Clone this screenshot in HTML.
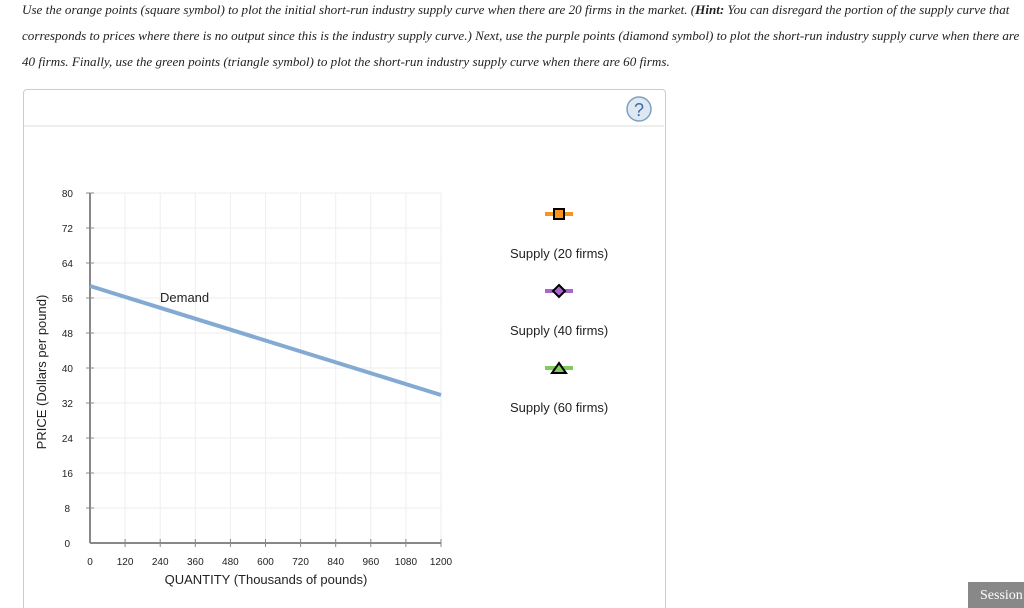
<!DOCTYPE html>
<html><head><meta charset="utf-8"><style>
html,body{margin:0;width:1024px;height:608px;overflow:hidden;background:#fff;font-family:"Liberation Sans",sans-serif;position:relative}
.t{position:absolute;left:22px;font-family:"Liberation Serif",serif;font-style:italic;font-size:13.1px;color:#222;white-space:nowrap}
.panel{position:absolute;left:23px;top:89px;width:641px;height:540px;border:1px solid #ccc;border-radius:4px}
.sess{position:absolute;left:968px;top:582px;width:56px;height:26px;background:#888;color:#fff;font-family:"Liberation Serif",serif;font-size:14px;line-height:28px;padding-left:12px;white-space:nowrap;overflow:hidden;box-sizing:border-box}
</style></head><body>
<div class="t" style="top:2px">Use the orange points (square symbol) to plot the initial short-run industry supply curve when there are 20 firms in the market. (<b>Hint:</b> You can disregard the portion of the supply curve that</div>
<div class="t" style="top:28px">corresponds to prices where there is no output since this is the industry supply curve.) Next, use the purple points (diamond symbol) to plot the short-run industry supply curve when there are</div>
<div class="t" style="top:54px">40 firms. Finally, use the green points (triangle symbol) to plot the short-run industry supply curve when there are 60 firms.</div>
<div class="panel"></div>
<div class="sess">Session</div>
<svg width="1024" height="608" style="position:absolute;left:0;top:0" font-family="Liberation Sans, sans-serif">
<line x1="24" y1="126" x2="664" y2="126" stroke="#ddd"/>
<circle cx="639" cy="109" r="12" fill="#dfe8f2" stroke="#7fa0c0" stroke-width="1.5"/>
<text x="639" y="116" text-anchor="middle" font-size="18" fill="#3a6ea5">?</text>
<g stroke="#eee">
<line x1="125.1" y1="193" x2="125.1" y2="543"/><line x1="160.2" y1="193" x2="160.2" y2="543"/><line x1="195.3" y1="193" x2="195.3" y2="543"/><line x1="230.4" y1="193" x2="230.4" y2="543"/><line x1="265.5" y1="193" x2="265.5" y2="543"/><line x1="300.6" y1="193" x2="300.6" y2="543"/><line x1="335.7" y1="193" x2="335.7" y2="543"/><line x1="370.8" y1="193" x2="370.8" y2="543"/><line x1="405.9" y1="193" x2="405.9" y2="543"/><line x1="441" y1="193" x2="441" y2="543"/>
<line x1="90" y1="193" x2="441" y2="193"/><line x1="90" y1="228" x2="441" y2="228"/><line x1="90" y1="263" x2="441" y2="263"/><line x1="90" y1="298" x2="441" y2="298"/><line x1="90" y1="333" x2="441" y2="333"/><line x1="90" y1="368" x2="441" y2="368"/><line x1="90" y1="403" x2="441" y2="403"/><line x1="90" y1="438" x2="441" y2="438"/><line x1="90" y1="473" x2="441" y2="473"/><line x1="90" y1="508" x2="441" y2="508"/>
</g>
<g stroke="#888" stroke-width="1">
<line x1="90" y1="193" x2="90" y2="543" stroke-width="2"/><line x1="90" y1="543" x2="441" y2="543" stroke-width="2"/>
<line x1="86" y1="193" x2="94" y2="193"/><line x1="86" y1="228" x2="94" y2="228"/><line x1="86" y1="263" x2="94" y2="263"/><line x1="86" y1="298" x2="94" y2="298"/><line x1="86" y1="333" x2="94" y2="333"/><line x1="86" y1="368" x2="94" y2="368"/><line x1="86" y1="403" x2="94" y2="403"/><line x1="86" y1="438" x2="94" y2="438"/><line x1="86" y1="473" x2="94" y2="473"/><line x1="86" y1="508" x2="94" y2="508"/>
<line x1="125.1" y1="539" x2="125.1" y2="547"/><line x1="160.2" y1="539" x2="160.2" y2="547"/><line x1="195.3" y1="539" x2="195.3" y2="547"/><line x1="230.4" y1="539" x2="230.4" y2="547"/><line x1="265.5" y1="539" x2="265.5" y2="547"/><line x1="300.6" y1="539" x2="300.6" y2="547"/><line x1="335.7" y1="539" x2="335.7" y2="547"/><line x1="370.8" y1="539" x2="370.8" y2="547"/><line x1="405.9" y1="539" x2="405.9" y2="547"/><line x1="441" y1="539" x2="441" y2="547"/>
</g>
<g font-size="10" fill="#222" text-anchor="end">
<text x="73" y="197">80</text><text x="73" y="232">72</text><text x="73" y="267">64</text><text x="73" y="302">56</text><text x="73" y="337">48</text><text x="73" y="372">40</text><text x="73" y="407">32</text><text x="73" y="442">24</text><text x="73" y="477">16</text><text x="70" y="512">8</text><text x="70" y="547">0</text>
</g>
<g font-size="10" fill="#222" text-anchor="middle">
<text x="90" y="565">0</text><text x="125.1" y="565">120</text><text x="160.2" y="565">240</text><text x="195.3" y="565">360</text><text x="230.4" y="565">480</text><text x="265.5" y="565">600</text><text x="300.6" y="565">720</text><text x="335.7" y="565">840</text><text x="370.8" y="565">960</text><text x="405.9" y="565">1080</text><text x="441" y="565">1200</text>
</g>
<text x="266" y="584" font-size="13" text-anchor="middle" fill="#222">QUANTITY (Thousands of pounds)</text>
<text transform="translate(46,372) rotate(-90)" font-size="13" text-anchor="middle" fill="#222">PRICE (Dollars per pound)</text>
<line x1="90" y1="286" x2="441" y2="395" stroke="#84aad4" stroke-width="4"/>
<text x="160" y="302" font-size="13" fill="#222">Demand</text>
<line x1="545" y1="214" x2="573" y2="214" stroke="#f7941e" stroke-width="4"/>
<rect x="554" y="209" width="10" height="10" fill="#f7941e" stroke="#000" stroke-width="2"/>
<text x="510" y="258" font-size="13" fill="#222">Supply (20 firms)</text>
<line x1="545" y1="291" x2="573" y2="291" stroke="#a865d0" stroke-width="4"/>
<polygon points="559,285 565,291 559,297 553,291" fill="#a865d0" stroke="#000" stroke-width="2"/>
<text x="510" y="335" font-size="13" fill="#222">Supply (40 firms)</text>
<line x1="545" y1="368" x2="573" y2="368" stroke="#7fcc5c" stroke-width="4"/>
<polygon points="559,363 566,373 552,373" fill="#7fcc5c" stroke="#000" stroke-width="2"/>
<text x="510" y="412" font-size="13" fill="#222">Supply (60 firms)</text>
</svg>
</body></html>
